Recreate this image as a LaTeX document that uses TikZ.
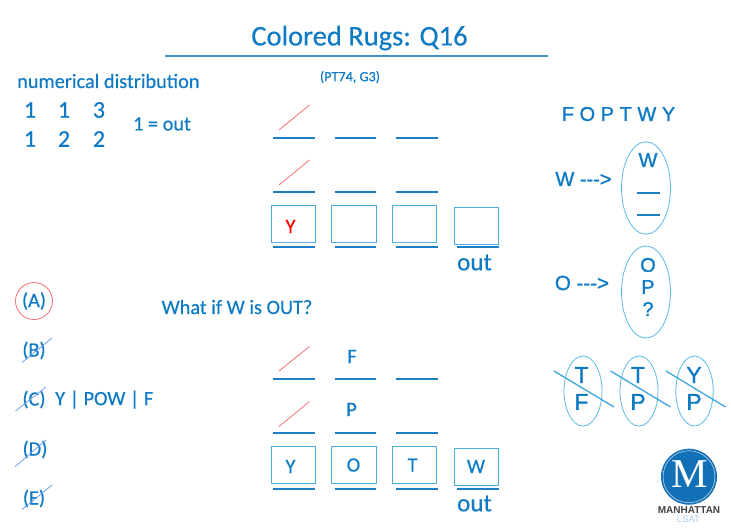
\documentclass[tikz,border=0pt]{standalone}
\usepackage{fontspec}
\setmainfont[FakeBold=0.35]{Carlito}
\newfontfamily\arialf[FakeBold=1.2]{Liberation Sans}
\newfontfamily\serifm{Liberation Serif}
\newfontfamily\arialb{Liberation Sans}
\definecolor{txtblue}{RGB}{14,122,196}
\definecolor{rule}{RGB}{30,125,195}
\definecolor{boxc}{RGB}{75,175,225}
\definecolor{oval}{RGB}{90,185,230}
\definecolor{redl}{RGB}{245,110,115}
\definecolor{strike}{RGB}{110,160,235}
\definecolor{logo}{RGB}{18,112,182}
\definecolor{lsat}{RGB}{170,205,235}
\newcommand{\fs}[1]{\fontsize{#1}{#1}\selectfont}
\tikzset{
 x=1pt,y=-1pt,
 lab/.style={inner sep=0pt,text=txtblue,font=\fs{20.3}},
 let/.style={inner sep=0pt,text=txtblue,font=\arialf\fs{18}},
 slot/.style={draw=rule,line width=2pt},
 cell/.style={draw=boxc,line width=1pt},
 ovalc/.style={draw=oval,line width=0.8pt},
 redslash/.style={draw=redl,line width=0.8pt},
 optstrike/.style={draw=strike,line width=0.8pt},
 bigstrike/.style={draw=boxc!80!rule,line width=1.3pt},
}
\begin{document}
\begin{tikzpicture}
\useasboundingbox (0,0) rectangle (731,528);
\node[lab,font=\fs{28.5}] (title) at (359.5,38) {Colored Rugs: Q16};
\coordinate (tl) at (165,56); \coordinate (tr) at (548,56);
\draw[draw=rule!85!white,line width=1.2pt] (tl) -- (tr);
\node[lab,font=\fs{14.2}] (src) at (350,77) {(PT74, G3)};
\node[lab,anchor=west] (numd) at (17,81) {numerical distribution};
\foreach \n/\x/\y/\t in {a/30/110/1,b/64/110/1,c/99/110/3,d/30/139/1,e/64/139/2,f/99/139/2}
  \node[lab,font=\fs{24}] (n\n) at (\x,\y) {\t};
\node[lab] (oneout) at (162,124) {1 = out};
% top diagram
\foreach \n/\y in {r1/137.7,r2/191.5,r3/246.5,s1/378.7,s2/432.7,s3/488.7}{
  \draw[slot] (273,\y) -- (314.5,\y);
  \draw[slot] (334.5,\y) -- (376,\y);
  \draw[slot] (395.5,\y) -- (437.5,\y);
}
\draw[slot] (457,246.5) -- (498.5,246.5);
\draw[slot] (457,488.7) -- (498.5,488.7);
\draw[redslash] (279,130) -- (309.5,105);
\draw[redslash] (279,185) -- (309.5,160);
\draw[redslash] (279,371) -- (309.5,346.5);
\draw[redslash] (279,426.5) -- (309.5,401.5);
\foreach \a/\b/\u/\v/\n/\t in {271/315/205/242/t1/,331.5/376/205/242/t2/,392/436.5/205/242/t3/,454.5/498.5/207/244/t4/,271/315/446.7/483/b1/,331.5/376/446.7/483/b2/,392/436.5/446.7/483/b3/,454.5/498.5/448.5/485/b4/}
  \draw[cell] (\a,\u) rectangle (\b,\v);
\node[lab,text=red] (ty) at (290.5,226.5) {Y};
\node[lab,font=\fs{25}] (out1) at (474.5,262.5) {out};
\node[lab,font=\fs{25}] (out2) at (474.5,503.5) {out};
\node[lab] (by) at (290.5,466.5) {Y};
\node[lab] (bo) at (353.5,465) {O};
\node[lab] (bt) at (412.5,465) {T};
\node[lab] (bw) at (476,466.5) {W};
\node[lab] (ff) at (352,356.5) {F};
\node[lab] (pp) at (351.5,409.5) {P};
\node[lab] (whatif) at (237,307) {What if W is OUT?};
% options
\node[lab] (oa) at (34,301) {(A)};
\node[lab] (ob) at (34,350.5) {(B)};
\node[lab] (oc) at (34,399.5) {(C)};
\node[lab] (od) at (35,449.5) {(D)};
\node[lab] (oe) at (34,498.5) {(E)};
\node[lab,anchor=west] (oct) at (55,399.5) {Y | POW | F};
\draw[draw=redl,line width=0.8pt] (34,301) circle (18.5);
\draw[optstrike] (22,362.5) -- (52,338);
\draw[optstrike] (15.5,411) -- (46,387);
\draw[optstrike] (15,466.7) -- (46,440);
\draw[optstrike] (22,509.5) -- (52,485);
% right column
\node[let,font=\arialf\fs{20}] (letters) at (618.5,114) {F O P T W Y};
\node[let,font=\arialf\fs{20}] (rw) at (583.5,179) {W {-}{-}{-}>};
\node[let,font=\arialf\fs{20.5}] (ro) at (582,283) {O {-}{-}{-}>};
\draw[ovalc] (646,188) ellipse (24.5 and 46.2);
\draw[ovalc] (646,292) ellipse (24.5 and 46);
\node[let,font=\arialf\fs{20}] (ew) at (648,160) {W};
\draw[draw=rule,line width=1.2pt] (636.5,193) -- (660,193);
\draw[draw=rule,line width=1.2pt] (636.5,215) -- (660,215);
\node[let,font=\arialf\fs{20}] (eo) at (648,265) {O};
\node[let,font=\arialf\fs{20}] (ep) at (648,287) {P};
\node[let,font=\arialf\fs{20}] (eq) at (648,309) {?};
\draw[ovalc] (583,391) ellipse (19 and 35);
\draw[ovalc] (639,391) ellipse (19 and 35);
\draw[ovalc] (694.5,391) ellipse (18.7 and 35);
\node[let,font=\arialf\fs{23}] (c1) at (581.5,375) {T};
\node[let,font=\arialf\fs{23}] (d1) at (581.5,402) {F};
\node[let,font=\arialf\fs{23}] (c2) at (638,375) {T};
\node[let,font=\arialf\fs{23}] (d2) at (638,402) {P};
\node[let,font=\arialf\fs{23}] (c3) at (694,375) {Y};
\node[let,font=\arialf\fs{23}] (d3) at (694,402) {P};
\draw[bigstrike] (554,371) -- (614,407);
\draw[bigstrike] (610.5,371) -- (670.5,407);
\draw[bigstrike] (666,371) -- (725.5,407);
% logo
\fill[logo] (689,476.7) circle (28);
\draw[white!80!logo,line width=0.5pt] (689,476.7) circle (26);
\node[inner sep=0pt,text=white,font=\serifm\fs{41}] (logom) at (690,474.5) {M};
\node[inner sep=0pt,text=black!75,font=\arialb\bfseries\fs{10}] (logot) at (689,510) {MANHATTAN};
\node[inner sep=0pt,text=lsat,font=\arialb\fs{9.5}] (logol) at (688.5,519.5) {LSAT};
\end{tikzpicture}
\end{document}
